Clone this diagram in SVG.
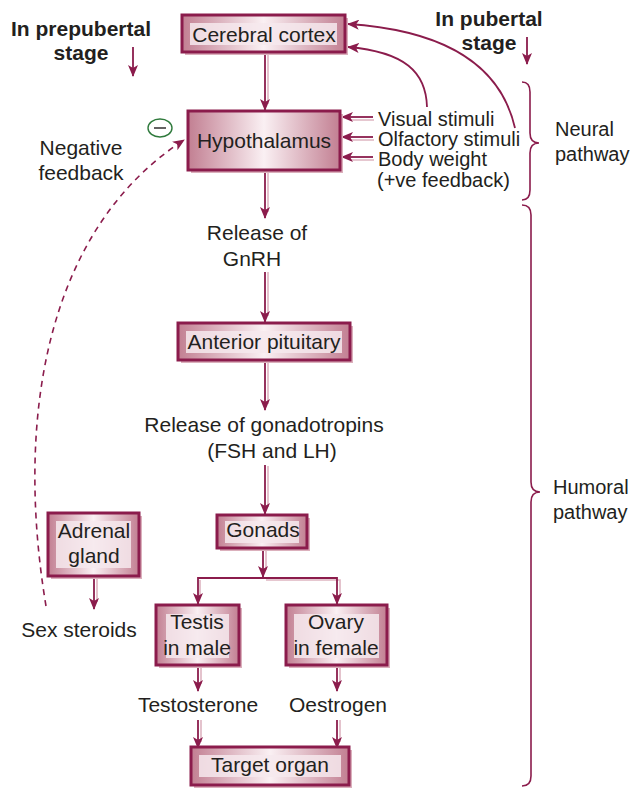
<svg xmlns="http://www.w3.org/2000/svg" width="634" height="789" viewBox="0 0 634 789">
  <defs>
    <linearGradient id="boxFill" x1="0" y1="0" x2="1" y2="0">
      <stop offset="0" stop-color="#c27f92"/>
      <stop offset="0.5" stop-color="#faf0f3"/>
      <stop offset="1" stop-color="#c27f92"/>
    </linearGradient>
    <marker id="arrow" viewBox="0 0 12 10" refX="11" refY="5" markerWidth="12" markerHeight="10" markerUnits="userSpaceOnUse" orient="auto">
      <path d="M0,0 L12,5 L0,10 L3,5 Z" fill="#8b1c4c"/>
    </marker>
    <style>
      .box { fill: url(#boxFill); stroke: #8b1c4c; stroke-width: 3; }
      .shadow { fill: #dbb0bc; }
      .band { fill: #f6e9ed; opacity: 0.85; }
      .lbl { font-family: "Liberation Sans", Arial, sans-serif; font-size: 21px; fill: #231f20; text-anchor: middle; }
      .side { font-family: "Liberation Sans", Arial, sans-serif; font-size: 20px; fill: #231f20; }
      .head { font-family: "Liberation Sans", Arial, sans-serif; font-size: 21px; font-weight: bold; fill: #231f20; text-anchor: middle; }
      .wire { fill: none; stroke: #8b1c4c; stroke-width: 1.8; marker-end: url(#arrow); }
      .ghost { fill: none; stroke: #deb5c1; stroke-width: 1.6; }
      .dash { fill: none; stroke: #8b1c4c; stroke-width: 1.6; stroke-dasharray: 6 5; marker-end: url(#arrow); }
      .brace { fill: none; stroke: #8b1c4c; stroke-width: 1.6; }
    </style>
  </defs>

  <!-- stage headings -->
  <g id="prepubertal">
    <text class="head" x="81" y="36">In prepubertal</text>
    <text class="head" x="81" y="60">stage</text>
    <line class="wire" x1="133" y1="47" x2="133" y2="76"/>
  </g>
  <g id="pubertal">
    <text class="head" x="489" y="26">In pubertal</text>
    <text class="head" x="489" y="50">stage</text>
    <line class="wire" x1="527" y1="37" x2="527" y2="64"/>
  </g>

  <!-- connectors -->
  <g id="connectors">
    <!-- pale offset lines -->
    <path class="ghost" d="M268,53 V104 M268,172 V212 M268,272 V316 M268,362 V404 M268,466 V507 M266,550 V570 M266,580 H340 V597 M200,580 V597 M201,666 V684 M340,666 V684 M201,720 V742 M340,720 V742 M97,578 V602 M374,120 H350 M374,140 H350 M374,160 H350"/>
    <line class="wire" x1="265" y1="52" x2="265" y2="110"/>
    <line class="wire" x1="265" y1="170" x2="265" y2="218"/>
    <line class="wire" x1="265" y1="272" x2="265" y2="322"/>
    <line class="wire" x1="265" y1="360" x2="265" y2="410"/>
    <line class="wire" x1="265" y1="465" x2="265" y2="514"/>
    <line class="wire" x1="263" y1="548" x2="263" y2="577"/>
    <path class="wire" d="M263,578 H198 V604"/>
    <path class="wire" d="M263,578 H337 V604"/>
    <line class="wire" x1="198" y1="665" x2="198" y2="691"/>
    <line class="wire" x1="337" y1="665" x2="337" y2="691"/>
    <line class="wire" x1="198" y1="720" x2="198" y2="748"/>
    <line class="wire" x1="337" y1="720" x2="337" y2="748"/>
    <line class="wire" x1="94" y1="576" x2="94" y2="609"/>
    <!-- sensory inputs -->
    <line class="wire" x1="373" y1="117" x2="342" y2="117"/>
    <line class="wire" x1="373" y1="137" x2="342" y2="137"/>
    <line class="wire" x1="373" y1="157" x2="342" y2="157"/>
    <!-- pubertal activation of the cortex -->
    <path class="wire" d="M515,128 C500,62 440,30 348,24"/>
    <path class="wire" d="M427,107 C426,72 405,52 348,47"/>
    <!-- negative feedback of sex steroids -->
    <path class="dash" d="M46,606 C15,420 45,230 184,140"/>
  </g>

  <!-- nodes -->
  <g id="cerebral-cortex">
    <rect class="shadow" x="185" y="18" width="163" height="37"/>
    <rect class="box" x="182" y="15" width="163" height="37"/>
    <rect class="band" x="190" y="23" width="147" height="22"/>
    <text class="lbl" x="264" y="42">Cerebral cortex</text>
  </g>
  <g id="hypothalamus">
    <rect class="shadow" x="191" y="114" width="152" height="59"/>
    <rect class="box" x="188" y="111" width="152" height="59"/>
    <text class="lbl" x="264" y="148">Hypothalamus</text>
  </g>
  <g id="anterior-pituitary">
    <rect class="shadow" x="181" y="326" width="172" height="37"/>
    <rect class="box" x="178" y="323" width="172" height="37"/>
    <rect class="band" x="186" y="331" width="156" height="22"/>
    <text class="lbl" x="264" y="349">Anterior pituitary</text>
  </g>
  <g id="gonads">
    <rect class="shadow" x="220" y="518" width="90" height="33"/>
    <rect class="box" x="217" y="515" width="90" height="33"/>
    <rect class="band" x="225" y="521" width="74" height="22"/>
    <text class="lbl" x="263" y="537">Gonads</text>
  </g>
  <g id="adrenal-gland">
    <rect class="shadow" x="51" y="516" width="91" height="63"/>
    <rect class="box" x="48" y="513" width="91" height="63"/>
    <rect class="band" x="56" y="521" width="75" height="47"/>
    <text class="lbl" x="94" y="538">Adrenal</text>
    <text class="lbl" x="94" y="563">gland</text>
  </g>
  <g id="testis">
    <rect class="shadow" x="159" y="608" width="83" height="60"/>
    <rect class="box" x="156" y="605" width="83" height="60"/>
    <rect class="band" x="166" y="614" width="63" height="44"/>
    <text class="lbl" x="197" y="629">Testis</text>
    <text class="lbl" x="197" y="655">in male</text>
  </g>
  <g id="ovary">
    <rect class="shadow" x="289" y="608" width="101" height="60"/>
    <rect class="box" x="286" y="605" width="101" height="60"/>
    <rect class="band" x="294" y="614" width="85" height="44"/>
    <text class="lbl" x="336" y="629">Ovary</text>
    <text class="lbl" x="336" y="655">in female</text>
  </g>
  <g id="target-organ">
    <rect class="shadow" x="194" y="750" width="158" height="38"/>
    <rect class="box" x="191" y="747" width="158" height="38"/>
    <rect class="band" x="199" y="755" width="142" height="22"/>
    <text class="lbl" x="270" y="772">Target organ</text>
  </g>

  <!-- free labels -->
  <g id="labels">
    <text class="lbl" x="257" y="240">Release of</text>
    <text class="lbl" x="252" y="266">GnRH</text>
    <text class="lbl" x="264" y="432">Release of gonadotropins</text>
    <text class="lbl" x="272" y="458">(FSH and LH)</text>
    <text class="lbl" x="198" y="712">Testosterone</text>
    <text class="lbl" x="338" y="712">Oestrogen</text>
    <text class="lbl" x="79" y="637">Sex steroids</text>
    <text class="lbl" x="81" y="155">Negative</text>
    <text class="lbl" x="81" y="180">feedback</text>
    <text class="side" x="378" y="126">Visual stimuli</text>
    <text class="side" x="378" y="146">Olfactory stimuli</text>
    <text class="side" x="378" y="166">Body weight</text>
    <text class="side" x="377" y="187">(+ve feedback)</text>
  </g>

  <g id="minus-sign">
    <ellipse cx="160" cy="128" rx="12" ry="9" fill="none" stroke="#2f7a3c" stroke-width="1.4"/>
    <line x1="154" y1="128" x2="166" y2="128" stroke="#231f20" stroke-width="1.4"/>
  </g>

  <!-- pathway braces -->
  <g id="neural-pathway">
    <path class="brace" d="M522,82 Q530,82 530,92 V133 Q530,143 539,143 Q530,143 530,153 V190 Q530,200 522,200"/>
    <text class="side" x="555" y="136">Neural</text>
    <text class="side" x="555" y="161">pathway</text>
  </g>
  <g id="humoral-pathway">
    <path class="brace" d="M522,205 Q531,205 531,215 V482 Q531,492 540,492 Q531,492 531,502 V776 Q531,786 522,786"/>
    <text class="side" x="553" y="494">Humoral</text>
    <text class="side" x="553" y="519">pathway</text>
  </g>
</svg>
